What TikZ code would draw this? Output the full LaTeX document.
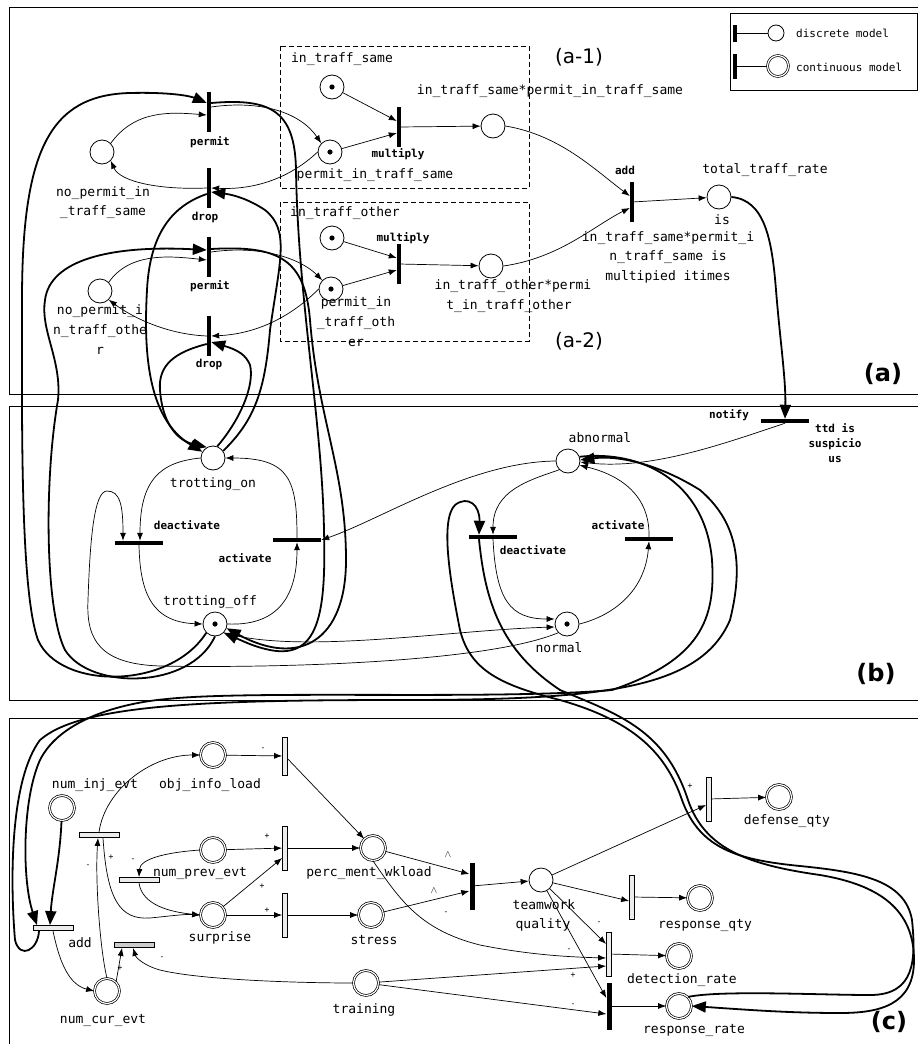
\documentclass[tikz,border=0pt]{standalone}
\usepackage{fontspec}
\newfontfamily\labfont{DejaVu Sans Mono}
\newfontfamily\panfont{DejaVu Sans}
\usetikzlibrary{arrows.meta}
\tikzset{
  place/.style={circle,draw,line width=0.8pt,minimum size=24pt,inner sep=0pt},
  cplace/.style={circle,draw,double,double distance=1.2pt,line width=0.7pt,minimum size=25pt,inner sep=0pt},
  token/.style={path picture={\fill (path picture bounding box.center) circle (2.6pt);}},
  vbar/.style={rectangle,fill=black,inner sep=0pt,minimum width=4pt,minimum height=40pt},
  hbar/.style={rectangle,fill=black,inner sep=0pt,minimum width=48pt,minimum height=4pt},
  cvbar/.style={rectangle,draw,fill=gray!15,line width=0.8pt,inner sep=0pt,minimum width=5pt,minimum height=44pt},
  chbar/.style={rectangle,draw,fill=gray!15,line width=0.8pt,inner sep=0pt,minimum width=40pt,minimum height=5pt},
  lab/.style={font=\labfont\fontsize{13}{14}\selectfont,inner sep=1pt},
  tlab/.style={font=\labfont\bfseries\fontsize{11}{12}\selectfont,inner sep=1pt},
  sign/.style={font=\labfont\fontsize{8}{8}\selectfont,inner sep=0pt},
  arc/.style={line width=0.7pt,-{Latex[length=8pt,width=6pt]}},
  tarc/.style={line width=1.8pt,-{Triangle[length=14pt,width=11pt]}},
  pane/.style={line width=1pt},
}
\begin{document}
\begin{tikzpicture}[x=1pt,y=-1pt]
    \fill[white] (0,0) rectangle (918,1044);
    \useasboundingbox (0,0) rectangle (918,1044);
    \draw[pane] (9,7) rectangle (930,394);
    \draw[pane] (9,406) rectangle (930,700);
    \draw[pane] (9,718) rectangle (930,1060);
    \draw[dash pattern=on 5pt off 3pt,line width=0.7pt] (280,46) rectangle (529,188);
    \draw[dash pattern=on 5pt off 3pt,line width=0.7pt] (280,202) rectangle (529,341);
    % legend
    \draw[line width=0.8pt] (730,13) rectangle (917,90);
    \node[vbar,minimum height=17pt] (legbarA) at (735,33) {};
    \node[place,minimum size=16pt] (legplA) at (776,33) {};
    \draw[line width=0.8pt] (legbarA) -- (legplA);
    \node[vbar,minimum height=25pt] (legbarB) at (735,66) {};
    \node[cplace,minimum size=21pt] (legplB) at (778,66) {};
    \draw[line width=0.8pt] (legbarB) -- (legplB);
    \node[lab,font=\labfont\fontsize{11}{12}\selectfont,anchor=west] (legtA) at (795,33) {discrete model};
    \node[lab,font=\labfont\fontsize{11}{12}\selectfont,anchor=west] (legtB) at (795,67) {continuous model};
    % (a) nodes
    \node[place] (nps) at (102,152) {};
    \node[place] (npo) at (100,291) {};
    \node[vbar] (permA) at (209,112) {};
    \node[vbar] (dropA) at (209,188) {};
    \node[vbar] (permB) at (209,257) {};
    \node[vbar] (dropB) at (209,336) {};
    \node[place,token] (its) at (332,87) {};
    \node[place,token] (pits) at (330,152) {};
    \node[place,token] (ito) at (332,238) {};
    \node[place,token] (pito) at (331,289) {};
    \node[vbar] (multA) at (399,127) {};
    \node[vbar] (multB) at (399,264) {};
    \node[place] (prodA) at (493,126) {};
    \node[place] (prodB) at (491,266) {};
    \node[vbar] (addA) at (632,202) {};
    \node[place] (ttr) at (719,197) {};
    \node[hbar] (notify) at (785,421) {};
    \node[tlab] (permAl) at (210,142) {permit};
    \node[tlab] (dropAl) at (205,217) {drop};
    \node[tlab] (permBl) at (210,286) {permit};
    \node[tlab] (dropBl) at (209,364) {drop};
    \node[lab] (npsl1) at (103,193) {no\_permit\_in};
    \node[lab] (npsl2) at (103,212) {\_traff\_same};
    \node[lab] (npol1) at (100,311) {no\_permit\_i};
    \node[lab] (npol2) at (100,331) {n\_traff\_othe};
    \node[lab] (npol3) at (100,351) {r};
    \node[lab] (itsl) at (342,59) {in\_traff\_same};
    \node[tlab] (multAl) at (398,154) {multiply};
    \node[lab] (pitsl) at (375,175) {permit\_in\_traff\_same};
    \node[lab] (prodAl) at (550,91) {in\_traff\_same*permit\_in\_traff\_same};
    \node[lab] (itol) at (345,213) {in\_traff\_other};
    \node[tlab] (multBl) at (403,238) {multiply};
    \node[lab] (pitol1) at (356,303) {permit\_in};
    \node[lab] (pitol2) at (356,323) {\_traff\_oth};
    \node[lab] (pitol3) at (356,343) {er};
    \node[lab] (prodBl1) at (513,286) {in\_traff\_other*permi};
    \node[lab] (prodBl2) at (509,306) {t\_in\_traff\_other};
    \node[tlab] (addAl) at (625,170) {add};
    \node[lab] (ttrl) at (765,170) {total\_traff\_rate};
    \node[lab] (addtx1) at (722,220) {is};
    \node[lab] (addtx2) at (668,238) {in\_traff\_same*permit\_i};
    \node[lab] (addtx3) at (668,257) {n\_traff\_same is};
    \node[lab] (addtx4) at (668,277) {multipied itimes};
    \node[tlab] (notifyl) at (729,415) {notify};
    \node[tlab] (ttdl1) at (835,428) {ttd is};
    \node[tlab] (ttdl2) at (835,444) {suspicio};
    \node[tlab] (ttdl3) at (835,459) {us};
    \node[font=\panfont\fontsize{20}{22}\selectfont] (sa1) at (579,57) {(a-1)};
    \node[font=\panfont\fontsize{20}{22}\selectfont] (sa2) at (579,341) {(a-2)};
    \node[font=\panfont\bfseries\fontsize{24}{26}\selectfont] (pa) at (883,374) {(a)};
    % (a) arcs
    \draw[arc] (nps.north east) .. controls (135,110) and (170,112) .. ([yshift=-3pt]permA.west);
    \draw[arc] ([yshift=5pt]permA.east) .. controls (260,100) and (300,112) .. (pits.north west);
    \draw[arc] (pits.west) .. controls (290,178) and (255,190) .. (dropA.east);
    \draw[arc] (dropA.west) .. controls (160,190) and (120,182) .. (nps.south east);
    \draw[arc] (its) -- ([yshift=6pt]multA.west);
    \draw[arc] (pits) -- ([yshift=-6pt]multA.west);
    \draw[arc] (multA) -- (prodA);
    \draw[arc] (prodA.east) .. controls (560,135) and (595,170) .. ([yshift=6pt]addA.west);
    \draw[arc] (npo.north east) .. controls (130,252) and (170,256) .. ([yshift=-3pt]permB.west);
    \draw[arc] ([yshift=5pt]permB.east) .. controls (260,245) and (300,258) .. (pito.north west);
    \draw[arc] (pito.west) .. controls (290,318) and (255,334) .. (dropB.east);
    \draw[arc] (dropB.west) .. controls (160,334) and (125,312) .. (npo.south east);
    \draw[arc] (ito) -- ([yshift=6pt]multB.west);
    \draw[arc] (pito) -- ([yshift=-6pt]multB.west);
    \draw[arc] (multB) -- (prodB);
    \draw[arc] (prodB.east) .. controls (560,258) and (595,225) .. ([yshift=-6pt]addA.west);
    \draw[arc] (addA) -- (ttr);
    \draw[tarc] (ttr.east) .. controls (765,200) and (772,240) .. (776,290) .. controls (780,340) and (786,380) .. (notify.north);
    % (b) nodes
    \node[place] (abn) at (568,461) {};
    \node[place] (tron) at (213,458) {};
    \node[place,token] (troff) at (215,624) {};
    \node[place,token] (norm) at (567,624) {};
    \node[hbar] (deactA) at (139,543) {};
    \node[hbar] (actA) at (297,540) {};
    \node[hbar] (deactB) at (493,537) {};
    \node[hbar] (actB) at (649,539) {};
    \node[lab] (abnl) at (600,438) {abnormal};
    \node[lab] (tronl) at (213,484) {trotting\_on};
    \node[lab] (troffl) at (210,602) {trotting\_off};
    \node[lab] (norml) at (559,648) {normal};
    \node[tlab] (deactAl) at (187,525) {deactivate};
    \node[tlab] (actAl) at (245,558) {activate};
    \node[tlab] (deactBl) at (533,550) {deactivate};
    \node[tlab] (actBl) at (618,525) {activate};
    \node[font=\panfont\bfseries\fontsize{24}{26}\selectfont] (pb) at (876,674) {(b)};
    % (b) arcs
    \draw[arc] (tron.west) .. controls (160,462) and (140,480) .. ([xshift=1pt]deactA.north);
    \draw[arc] (deactA.south) .. controls (140,590) and (150,622) .. (troff.west);
    \draw[arc] (troff.east) .. controls (275,626) and (297,600) .. (actA.south);
    \draw[arc] (actA.north) .. controls (297,480) and (290,458) .. (tron.east);
    \draw[arc] (norm.south west) .. controls (480,665) and (250,668) .. (160,666) .. controls (100,664) and (86,640) .. (88,600) .. controls (90,540) and (94,491) .. (107,491) .. controls (120,491) and (123,505) .. ([xshift=-16pt]deactA.north);
    \draw[arc] (abn.west) .. controls (470,462) and (380,520) .. (actA.east);
    \draw[arc] (abn.south west) .. controls (530,480) and (493,490) .. (deactB.north);
    \draw[arc] (deactB.south) .. controls (496,600) and (510,619) .. ([yshift=5pt]norm.west);
    \draw[arc] (troff.south east) .. controls (300,655) and (450,630) .. ([yshift=-3pt]norm.west);
    \draw[arc] (norm.east) .. controls (615,615) and (645,590) .. (actB.south);
    \draw[arc] (actB.north) .. controls (650,495) and (620,475) .. (abn.-20);
    \draw[arc] (notify.south) .. controls (720,445) and (650,470) .. (abn.-5);
    % thick arcs between (a) and (b)
    \draw[tarc] (troff.south west) .. controls (170,690) and (60,690) .. (38,640) .. controls (20,590) and (22,420) .. (22,300) .. controls (22,150) and (50,95) .. (130,93) .. controls (170,92) and (190,96) .. ([yshift=9pt]permA.west);
    \draw[tarc] ([yshift=9pt]permA.east) .. controls (270,98) and (295,110) .. (296,170) .. controls (298,300) and (322,420) .. (324,530) .. controls (326,610) and (320,660) .. (270,650) .. controls (255,647) and (245,642) .. (troff.south east);
    \draw[tarc] (troff.south) .. controls (190,690) and (90,690) .. (65,650) .. controls (45,610) and (44,480) .. (58,400) .. controls (62,360) and (40,330) .. (45,300) .. controls (50,260) and (110,245) .. ([yshift=7pt]permB.west);
    \draw[tarc] ([yshift=8pt]permB.east) .. controls (280,245) and (305,260) .. (310,320) .. controls (318,420) and (346,470) .. (346,560) .. controls (346,640) and (300,668) .. (troff.-20);
    \draw[tarc] (tron.35) .. controls (255,420) and (265,390) .. (270,330) .. controls (280,260) and (290,230) .. (265,210) .. controls (250,200) and (235,195) .. ([yshift=-4pt]dropA.east);
    \draw[tarc] ([yshift=-6pt]dropA.west) .. controls (175,205) and (150,230) .. (147,290) .. controls (143,360) and (150,420) .. (tron.150);
    \draw[tarc] (tron.70) .. controls (240,420) and (255,385) .. (250,365) .. controls (246,355) and (238,350) .. ([yshift=-6pt]dropB.east);
    \draw[tarc] ([yshift=-8pt]dropB.west) .. controls (175,352) and (158,365) .. (160,390) .. controls (162,420) and (175,440) .. (tron.120);
    % (c) nodes
    \node[cplace] (objp) at (213,755) {};
    \node[cvbar,minimum height=38pt] (objT) at (285,756) {};
    \node[cplace] (injp) at (62,808) {};
    \node[chbar] (injT) at (99,835) {};
    \node[cplace] (prevp) at (213,850) {};
    \node[chbar] (prevT) at (139,880) {};
    \node[cplace] (surp) at (213,915) {};
    \node[chbar] (addC) at (53,928) {};
    \node[chbar,fill=gray!40] (curT) at (134,945) {};
    \node[cplace] (curp) at (107,991) {};
    \node[cvbar] (pwT) at (285,848) {};
    \node[cvbar] (stT) at (285,915) {};
    \node[cplace] (pwp) at (373,848) {};
    \node[cplace] (stp) at (371,915) {};
    \node[cplace] (trp) at (366,983) {};
    \node[vbar,minimum width=5pt,minimum height=47pt] (andT) at (472,886) {};
    \node[place] (tqp) at (541,880) {};
    \node[cvbar] (defT) at (709,799) {};
    \node[cplace] (defp) at (779,797) {};
    \node[cvbar] (rqT) at (632,897) {};
    \node[cplace] (rqp) at (700,898) {};
    \node[cvbar] (detT) at (609,954) {};
    \node[cplace] (detp) at (679,956) {};
    \node[vbar,minimum width=5pt,minimum height=47pt] (rrT) at (609,1006) {};
    \node[cplace] (rrp) at (679,1006) {};
    \node[lab] (injl) at (95,785) {num\_inj\_evt};
    \node[lab] (objl) at (210,785) {obj\_info\_load};
    \node[lab] (prevl) at (200,873) {num\_prev\_evt};
    \node[lab] (surl) at (220,938) {surprise};
    \node[lab] (addCl) at (80,943) {add};
    \node[lab] (curl) at (103,1020) {num\_cur\_evt};
    \node[lab] (pwl) at (369,873) {perc\_ment\_wkload};
    \node[lab] (stl) at (374,940) {stress};
    \node[lab] (trl) at (364,1010) {training};
    \node[lab] (tql1) at (544,905) {teamwork};
    \node[lab] (tql2) at (543,925) {quality};
    \node[lab] (defl) at (787,821) {defense\_qty};
    \node[lab] (rql) at (705,925) {response\_qty};
    \node[lab] (detl) at (682,980) {detection\_rate};
    \node[lab] (rrl) at (694,1030) {response\_rate};
    \node (wedgeA) at (448,855) {$\wedge$};
    \node (wedgeB) at (434,891) {$\wedge$};
    \node[font=\panfont\bfseries\fontsize{24}{26}\selectfont] (pc) at (889,1022) {(c)};
    \node[sign] (sg1) at (267,836) {+};
    \node[sign] (sg2) at (88,866) {-};
    \node[sign] (sg3) at (111,857) {+};
    \node[sign] (sg4) at (133,860) {-};
    \node[sign] (sg5) at (262,886) {+};
    \node[sign] (sg6) at (267,910) {+};
    \node[sign] (sg7) at (120,968) {+};
    \node[sign] (sg8) at (162,958) {-};
    \node[sign] (sg9) at (446,913) {-};
    \node[sign] (sg10) at (569,950) {-};
    \node[sign] (sg11) at (573,975) {+};
    \node[sign] (sg12) at (573,1005) {-};
    \node[sign] (sg13) at (599,923) {-};
    \node[sign] (sg14) at (690,786) {+};
    \node[sign] (sg15) at (263,749) {-};
    % (c) arcs
    \draw[arc] (objp) -- (objT);
    \draw[arc] (objT) -- (pwp);
    \draw[arc] (injT.north) .. controls (105,790) and (150,755) .. (objp.west);
    \draw[arc] ([xshift=4pt]injT.south) .. controls (107,900) and (120,920) .. (150,918) .. controls (170,916) and (185,914) .. (surp.west);
    \draw[arc] (curp.north) .. controls (100,950) and (95,880) .. ([xshift=-1pt]injT.south);
    \draw[arc] (curp.north east) -- ([xshift=-12pt]curT.south);
    \draw[arc] (addC.south) .. controls (60,965) and (70,985) .. (curp.west);
    \draw[tarc] (injp) .. controls (60,860) and (52,890) .. ([xshift=-3pt]addC.north);
    \draw[arc] (prevp.west) .. controls (170,852) and (140,858) .. (prevT.north);
    \draw[arc] (prevT.south) .. controls (142,905) and (170,912) .. (surp.west);
    \draw[arc] (prevp) -- (pwT);
    \draw[arc] (surp) -- ([yshift=-10pt]pwT.west);
    \draw[arc] (surp) -- (stT);
    \draw[arc] (pwT) -- (pwp);
    \draw[arc] (stT) -- (stp);
    \draw[arc] (pwp) -- ([yshift=12pt]andT.west);
    \draw[arc] (stp) -- ([yshift=-5pt]andT.west);
    \draw[arc] (andT) -- (tqp);
    \draw[arc] (tqp) -- ([yshift=-6pt]defT.west);
    \draw[arc] (tqp) -- ([yshift=-4pt]rqT.west);
    \draw[arc] (tqp) -- ([yshift=10pt]detT.west);
    \draw[arc] (tqp) -- ([yshift=8pt]rrT.west);
    \draw[arc] (pwp.south) .. controls (400,900) and (420,930) .. (480,945) .. controls (530,955) and (570,957) .. ([yshift=-4pt]detT.west);
    \draw[arc] (trp) -- ([yshift=-12pt]detT.west);
    \draw[arc] (trp) -- ([yshift=-8pt]rrT.west);
    \draw[arc] (trp.west) .. controls (300,983) and (200,980) .. (160,970) .. controls (145,966) and (136,958) .. ([xshift=-1pt]curT.south);
    \draw[arc] (defT) -- (defp);
    \draw[arc] (rqT) -- (rqp);
    \draw[arc] (detT) -- (detp);
    \draw[arc] (rrT) -- (rrp);
    % long thick arcs
    \draw[tarc] (abn.20) .. controls (640,450) and (705,480) .. (712,560) .. controls (716,620) and (700,660) .. (612,690) .. controls (500,700) and (250,690) .. (167,699) .. controls (120,703) and (60,720) .. (40,760) .. controls (22,800) and (22,880) .. ([xshift=-16pt]addC.north);
    \draw[tarc] ([xshift=-14pt]addC.south) .. controls (38,950) and (20,960) .. (15,940) .. controls (10,880) and (10,780) .. (40,740) .. controls (80,705) and (200,700) .. (400,700) .. controls (600,700) and (700,690) .. (730,620) .. controls (745,560) and (735,520) .. (700,490) .. controls (660,465) and (620,455) .. (abn.5);
    \draw[tarc] (rrp.north east) .. controls (720,990) and (820,995) .. (870,995) .. controls (915,995) and (916,960) .. (912,920) .. controls (905,880) and (860,872) .. (800,866) .. controls (740,860) and (700,850) .. (682,800) .. controls (665,750) and (630,720) .. (560,700) .. controls (500,685) and (470,670) .. (460,630) .. controls (450,580) and (440,520) .. (455,505) .. controls (468,495) and (480,505) .. ([xshift=-14pt]deactB.north);
    \draw[tarc] ([xshift=-14pt]deactB.south) .. controls (485,600) and (500,650) .. (560,690) .. controls (620,715) and (665,730) .. (688,800) .. controls (705,850) and (750,865) .. (820,875) .. controls (880,885) and (914,910) .. (914,960) .. controls (914,1005) and (880,1013) .. (840,1013) .. controls (790,1013) and (750,1010) .. (rrp.east);
\end{tikzpicture}
\end{document}
